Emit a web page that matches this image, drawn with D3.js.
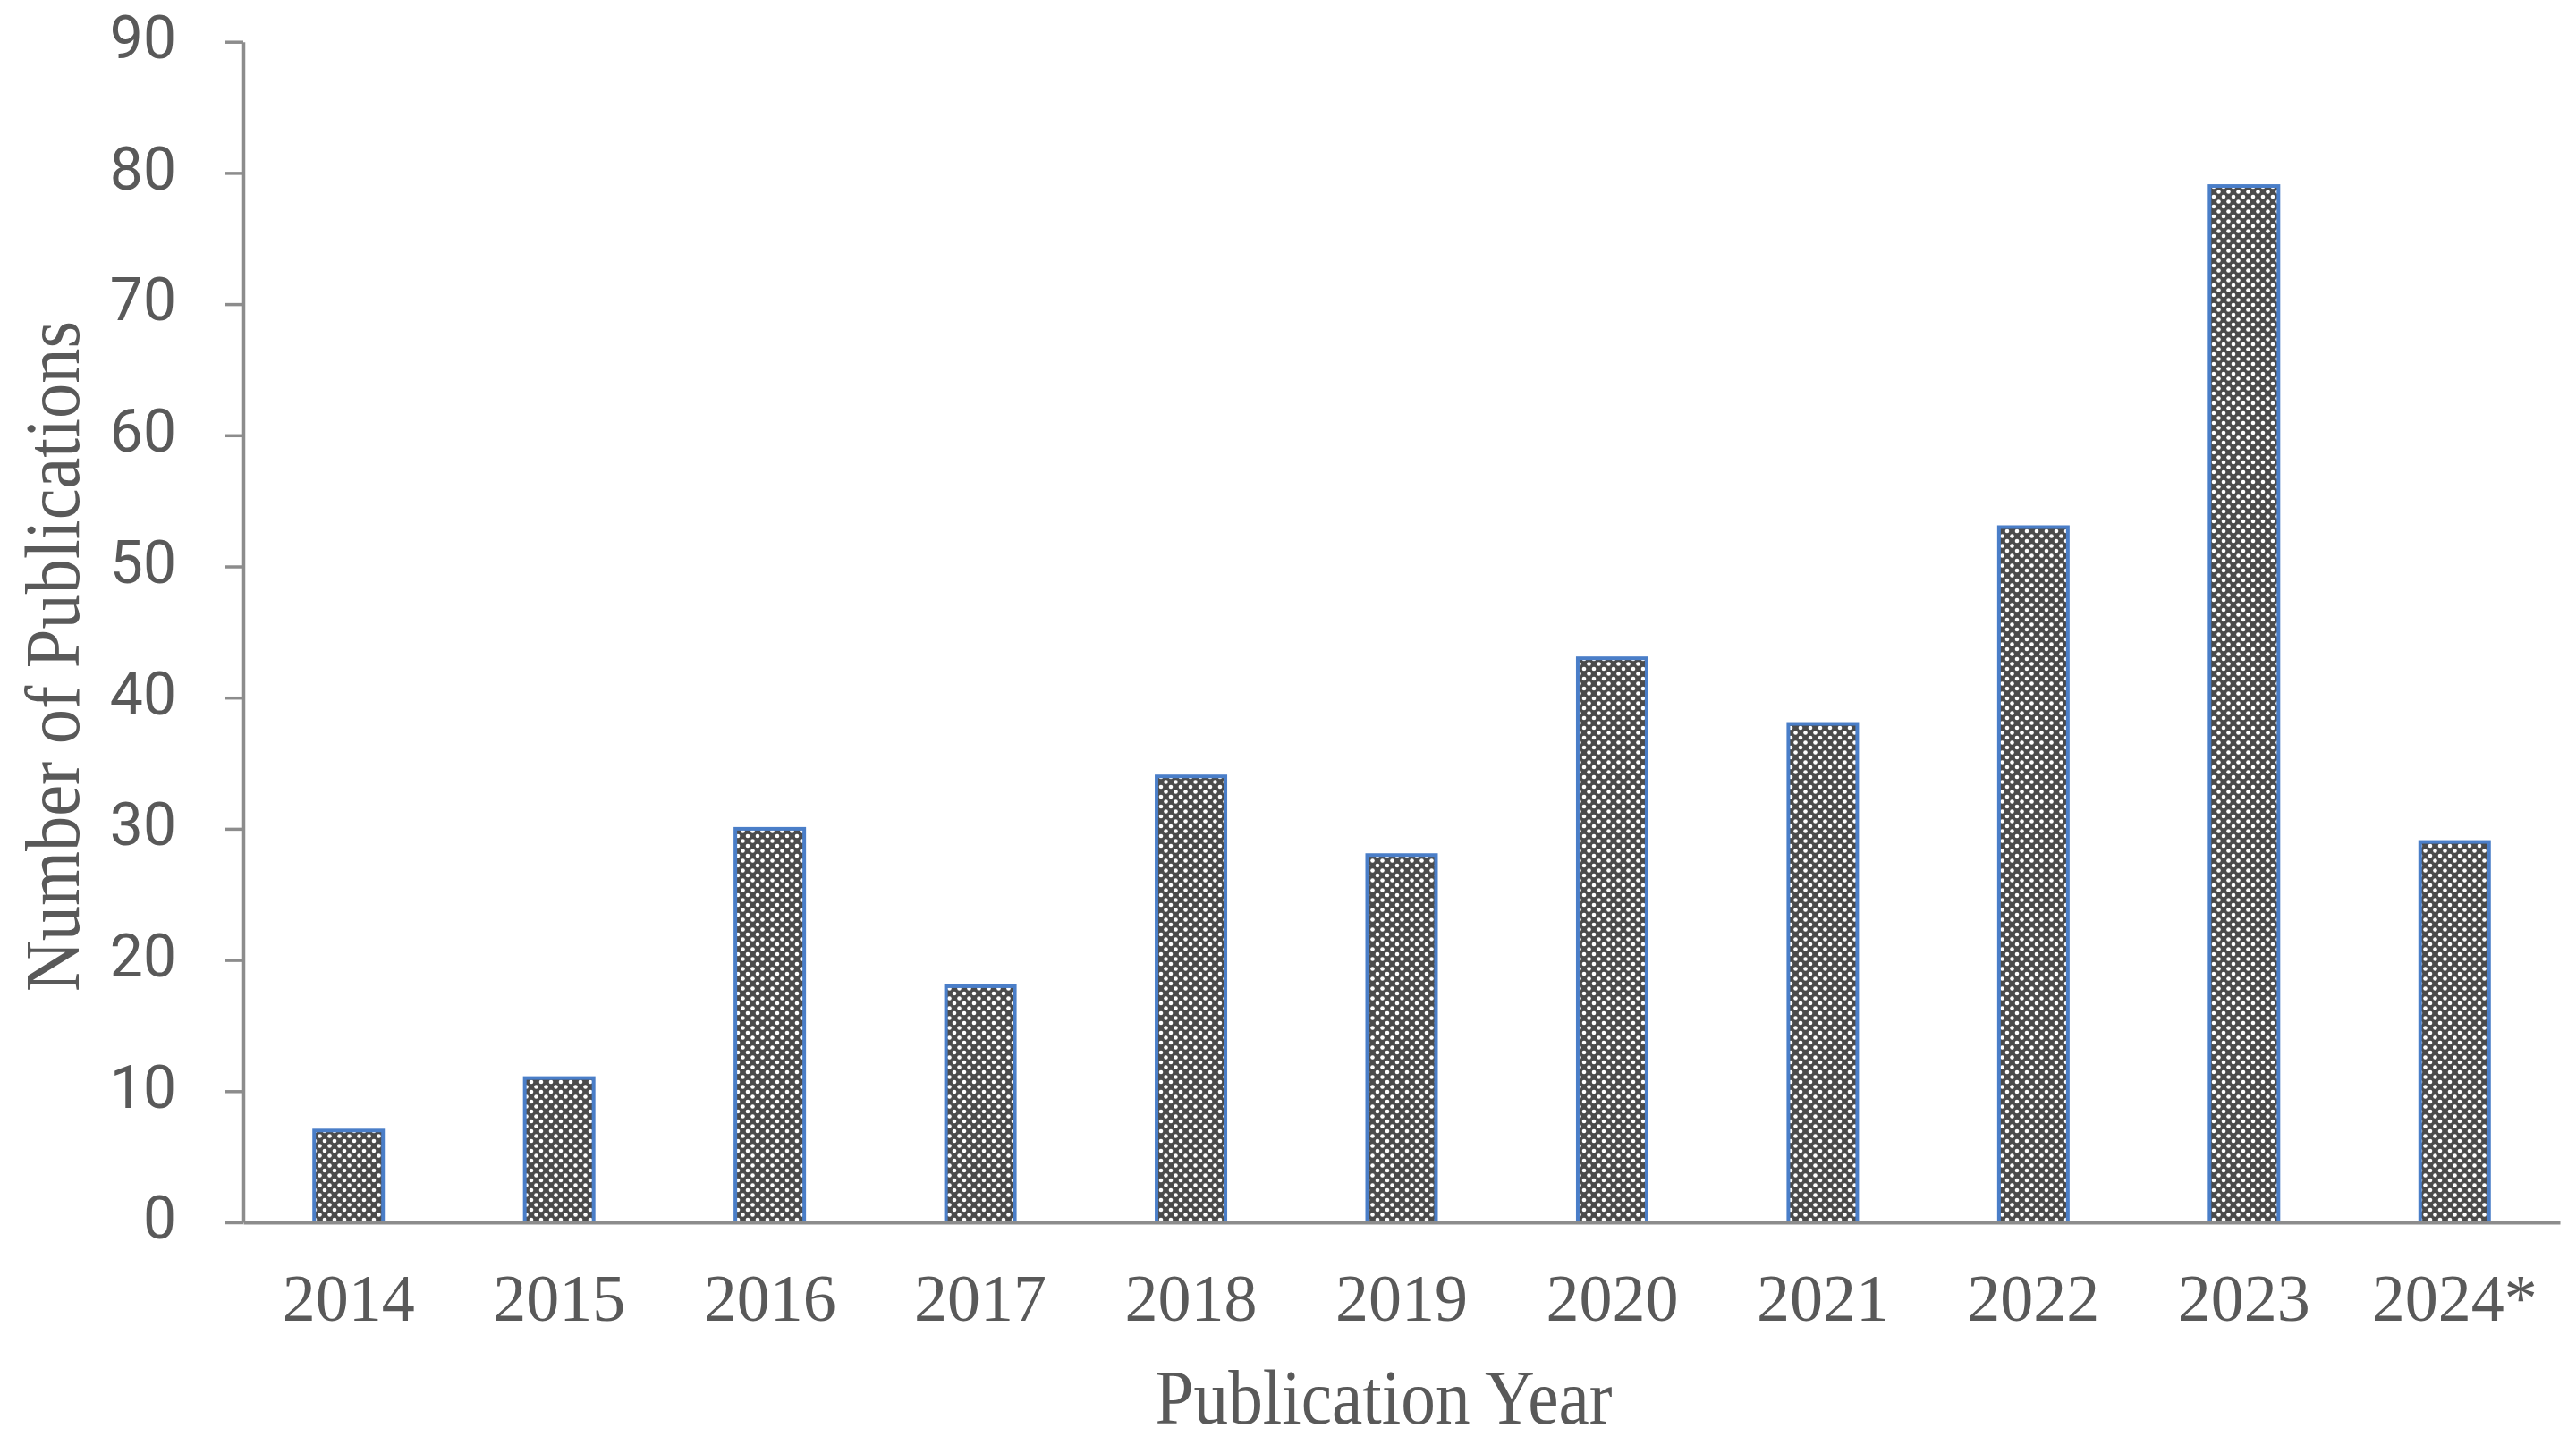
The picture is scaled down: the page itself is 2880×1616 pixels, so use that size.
<!DOCTYPE html>
<html>
<head>
<meta charset="utf-8">
<script src="https://cdn.jsdelivr.net/npm/d3@7"></script>
<style>
  html, body { margin: 0; padding: 0; background: #fff; }
  svg { display: block; }
</style>
</head>
<body>
<script>
const years = ["2014", "2015", "2016", "2017", "2018", "2019", "2020", "2021", "2022", "2023", "2024*"];
const publications = [7, 11, 30, 18, 34, 28, 43, 38, 53, 79, 29];
const yTicks = [0, 10, 20, 30, 40, 50, 60, 70, 80, 90];
const xTitle = "Publication Year";
const yTitle = "Number of Publications";

const W = 2880, H = 1616;
const mLeft = 272, mRight = 2862, mTop = 46.7, mBottom = 1367;
const textColor = "#595959";
const axisColor = "#8c8c8c";

const svg = d3.select("body").append("svg")
  .attr("width", W).attr("height", H)
  .attr("viewBox", `0 0 ${W} ${H}`);

const defs = svg.append("defs");
const cell = 11;
const pat = defs.append("pattern")
  .attr("id", "dots")
  .attr("patternUnits", "userSpaceOnUse")
  .attr("width", cell).attr("height", cell);
pat.append("rect").attr("width", cell).attr("height", cell).attr("fill", "#4b4b4b");
[[0,0],[cell,0],[0,cell],[cell,cell],[cell/2,cell/2]].forEach(([cx, cy]) => {
  pat.append("circle").attr("cx", cx).attr("cy", cy).attr("r", 2.3).attr("fill", "#ffffff");
});

const x = d3.scaleBand()
  .domain(years)
  .range([mLeft, mRight])
  .paddingInner(0.673)
  .paddingOuter(0.3365);

const y = d3.scaleLinear()
  .domain([0, 90])
  .range([mBottom, mTop]);

// bars
svg.append("g").selectAll("rect")
  .data(years.map((yr, i) => ({ yr, v: publications[i] })))
  .join("rect")
  .attr("x", d => x(d.yr))
  .attr("y", d => y(d.v))
  .attr("width", x.bandwidth())
  .attr("height", d => y(0) - y(d.v))
  .attr("fill", "url(#dots)")
  .attr("stroke", "#4a7ec8")
  .attr("stroke-width", 4);

// y axis
const yAxis = svg.append("g")
  .attr("transform", `translate(${mLeft},0)`)
  .call(d3.axisLeft(y).tickValues(yTicks).tickSize(20).tickPadding(55).tickSizeOuter(0));
yAxis.select(".domain").attr("stroke", axisColor).attr("stroke-width", 3.5);
yAxis.selectAll(".tick line").attr("stroke", axisColor).attr("stroke-width", 3.5);
yAxis.selectAll(".tick text")
  .attr("fill", textColor)
  .attr("font-family", "Roboto, 'Open Sans', sans-serif")
  .attr("font-size", 66)
  .attr("dy", "0.27em");

// x axis
const xAxis = svg.append("g")
  .attr("transform", `translate(0,${mBottom})`)
  .call(d3.axisBottom(x).tickSize(0).tickPadding(110).tickSizeOuter(0));
xAxis.select(".domain").attr("stroke", axisColor).attr("stroke-width", 4);
xAxis.selectAll(".tick text")
  .attr("fill", textColor)
  .attr("font-family", "'Liberation Serif', 'Times New Roman', serif")
  .attr("font-size", 74)
  .attr("dy", "0");

// axis titles
svg.append("text")
  .attr("x", 1547).attr("y", 1592)
  .attr("text-anchor", "middle")
  .attr("fill", textColor)
  .attr("font-family", "'Liberation Serif', 'Times New Roman', serif")
  .attr("font-size", 86)
  .attr("textLength", 511)
  .attr("lengthAdjust", "spacingAndGlyphs")
  .text(xTitle);

svg.append("text")
  .attr("transform", "translate(88,734) rotate(-90)")
  .attr("text-anchor", "middle")
  .attr("fill", textColor)
  .attr("font-family", "'Liberation Serif', 'Times New Roman', serif")
  .attr("font-size", 86)
  .attr("textLength", 750)
  .attr("lengthAdjust", "spacingAndGlyphs")
  .text(yTitle);
</script>
</body>
</html>
